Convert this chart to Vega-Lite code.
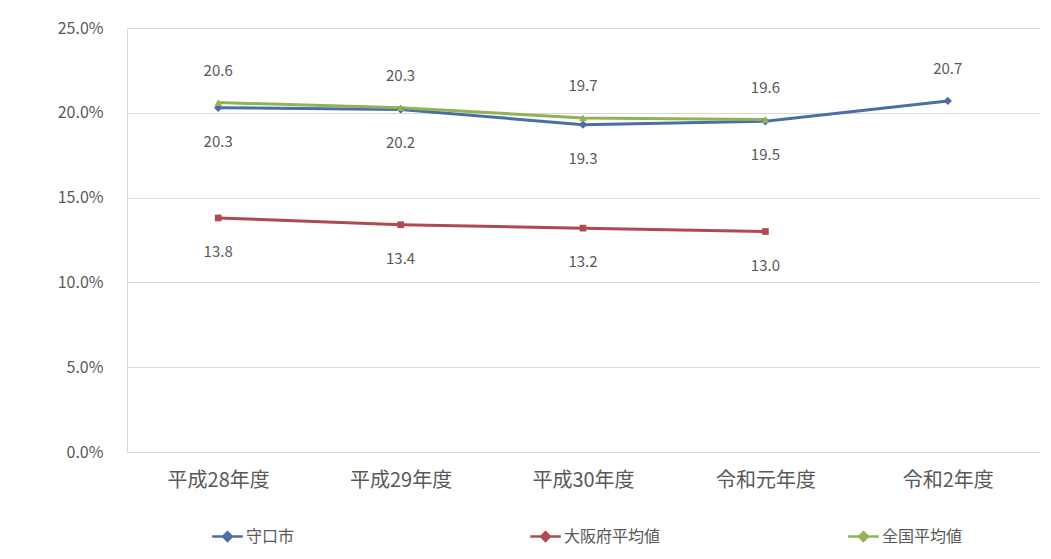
{
  "$schema": "https://vega.github.io/schema/vega-lite/v6.json",
  "width": 912,
  "height": 424,
  "autosize": {"type": "none"},
  "padding": {"left": 127, "top": 28, "right": 12, "bottom": 107},
  "background": "white",
  "config": {
    "font": "Noto Sans CJK JP",
    "view": {"stroke": null}
  },
  "data": {
    "values": [
      {"year": "平成28年度", "series": "守口市", "value": 20.3},
      {"year": "平成29年度", "series": "守口市", "value": 20.2},
      {"year": "平成30年度", "series": "守口市", "value": 19.3},
      {"year": "令和元年度", "series": "守口市", "value": 19.5},
      {"year": "令和2年度", "series": "守口市", "value": 20.7},
      {"year": "平成28年度", "series": "大阪府平均値", "value": 13.8},
      {"year": "平成29年度", "series": "大阪府平均値", "value": 13.4},
      {"year": "平成30年度", "series": "大阪府平均値", "value": 13.2},
      {"year": "令和元年度", "series": "大阪府平均値", "value": 13.0},
      {"year": "平成28年度", "series": "全国平均値", "value": 20.6},
      {"year": "平成29年度", "series": "全国平均値", "value": 20.3},
      {"year": "平成30年度", "series": "全国平均値", "value": 19.7},
      {"year": "令和元年度", "series": "全国平均値", "value": 19.6}
    ]
  },
  "encoding": {
    "x": {
      "field": "year",
      "type": "ordinal",
      "sort": ["平成28年度", "平成29年度", "平成30年度", "令和元年度", "令和2年度"],
      "axis": {
        "title": null,
        "labelAngle": 0,
        "ticks": false,
        "domainColor": "#d9d9d9",
        "labelPadding": 18,
        "labelFontSize": 20,
        "labelColor": "#595959"
      }
    },
    "y": {
      "field": "value",
      "type": "quantitative",
      "scale": {"domain": [0, 25], "nice": false},
      "axis": {
        "title": null,
        "values": [0, 5, 10, 15, 20, 25],
        "labelExpr": "format(datum.value, '.1f') + '%'",
        "ticks": false,
        "domainColor": "#d9d9d9",
        "gridColor": "#d9d9d9",
        "labelPadding": 24,
        "labelFontSize": 16,
        "labelColor": "#595959"
      }
    }
  },
  "layer": [
    {
      "mark": {"type": "line", "strokeWidth": 3},
      "encoding": {
        "color": {
          "field": "series",
          "type": "nominal",
          "scale": {
            "domain": ["守口市", "大阪府平均値", "全国平均値"],
            "range": ["#4a6fa5", "#b04a50", "#93b257"]
          },
          "legend": {
            "title": null,
            "orient": "none",
            "legendX": 88,
            "legendY": 496,
            "direction": "horizontal",
            "columns": 3,
            "gridAlign": "all",
            "columnPadding": 182,
            "labelFontSize": 16,
            "labelColor": "#595959",
            "symbolType": "M-1.4,0H1.4M0,-0.4L0.4,0L0,0.4L-0.4,0Z",
            "symbolSize": 480,
            "symbolStrokeWidth": 2.5,
            "labelOffset": 6,
            "encode": {
              "symbols": {
                "update": {"fill": {"scale": "color", "field": "value"}}
              }
            }
          }
        }
      }
    },
    {
      "transform": [{"filter": "datum.series === '守口市'"}],
      "mark": {"type": "point", "filled": true, "size": 70, "opacity": 1, "shape": "diamond"},
      "encoding": {
        "color": {"field": "series", "type": "nominal"}
      }
    },
    {
      "transform": [{"filter": "datum.series === '大阪府平均値'"}],
      "mark": {"type": "point", "filled": true, "size": 45, "opacity": 1, "shape": "square"},
      "encoding": {
        "color": {"field": "series", "type": "nominal"}
      }
    },
    {
      "transform": [{"filter": "datum.series === '全国平均値'"}],
      "mark": {"type": "point", "filled": true, "size": 60, "opacity": 1, "shape": "triangle-up"},
      "encoding": {
        "color": {"field": "series", "type": "nominal"}
      }
    },
    {
      "transform": [{"filter": "datum.series === '全国平均値' || (datum.series === '守口市' && datum.year === '令和2年度')"}],
      "mark": {"type": "text", "dy": -32, "fontSize": 15, "color": "#595959"},
      "encoding": {"text": {"field": "value", "type": "quantitative", "format": ".1f"}}
    },
    {
      "transform": [{"filter": "datum.series === '大阪府平均値' || (datum.series === '守口市' && datum.year !== '令和2年度')"}],
      "mark": {"type": "text", "dy": 34, "fontSize": 15, "color": "#595959"},
      "encoding": {"text": {"field": "value", "type": "quantitative", "format": ".1f"}}
    }
  ]
}
